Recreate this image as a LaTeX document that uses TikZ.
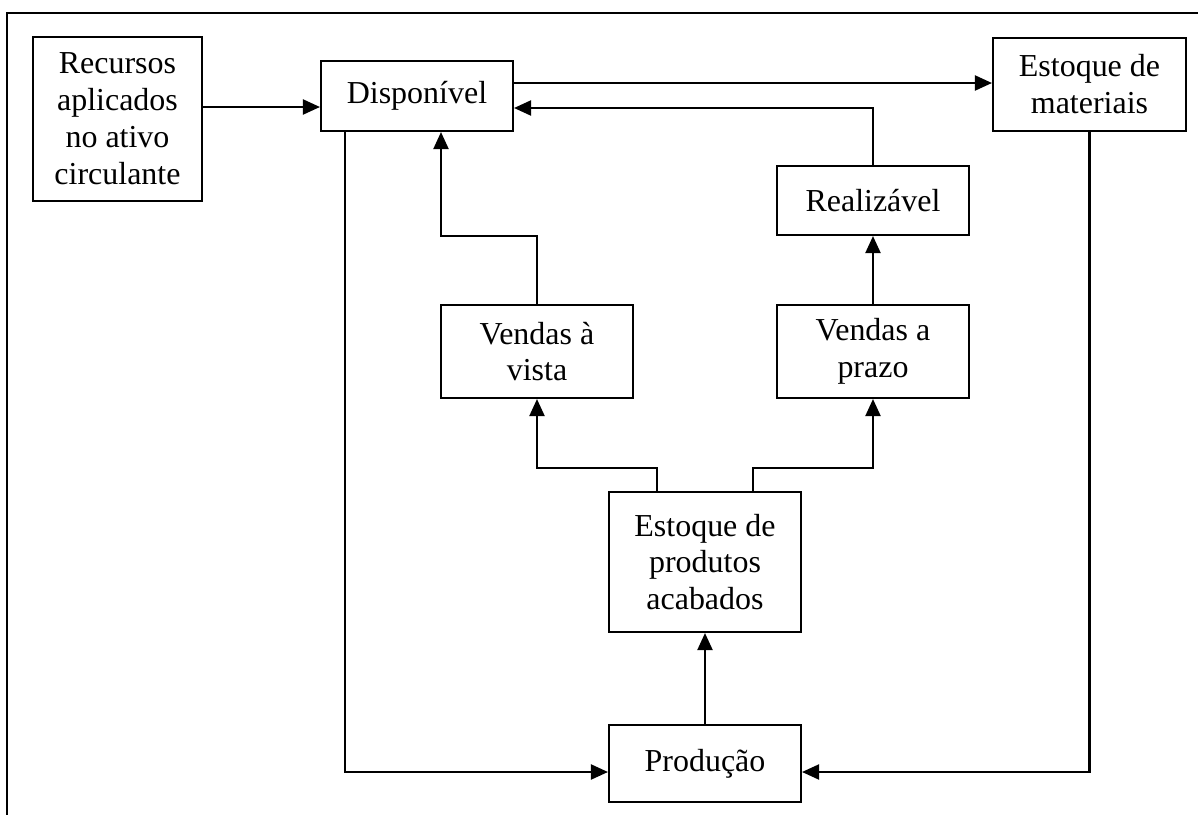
\documentclass[tikz,border=0pt]{standalone}
\usepackage{fontspec}
\setmainfont{Liberation Serif}
\usepackage{tikz}
\usetikzlibrary{arrows.meta, positioning, calc}
\tikzset{
    % Block (rectangle)
    block/.style={rectangle, draw=black, line width=1.2pt, fill=white,
        align=center, inner sep=0pt, font=\fontsize{18.2}{21}\selectfont},
    % Flow arrow
    flow/.style={-{Triangle[length=0.34cm, width=0.3cm]}, line width=1.2pt, black},
    % Outer frame
    frameline/.style={line width=1.4pt, black},
}

\begin{document}
\begin{tikzpicture}[x=0.02cm, y=-0.02cm]
    \useasboundingbox (0,0) rectangle (1198,815);
    \draw[frameline] (7,815) |- (1198,13);
    % blocks
    \node[block, minimum width=3.38cm, minimum height=3.28cm] (rec) at (117.5,119) {Recursos\\aplicados\\no ativo\\circulante};
    \node[block, minimum width=3.84cm, minimum height=1.4cm] (disp) at (417,96) {Dispon\'ivel};
    \node[block, minimum width=3.86cm, minimum height=1.86cm] (estmat) at (1089.5,84.5) {Estoque de\\materiais};
    \node[block, minimum width=3.84cm, minimum height=1.38cm] (real) at (873,200.5) {Realiz\'avel};
    \node[block, minimum width=3.84cm, minimum height=1.86cm] (vvista) at (537,351.5) {Vendas \`a\\vista};
    \node[block, minimum width=3.84cm, minimum height=1.86cm] (vprazo) at (873,351.5) {Vendas a\\prazo};
    \node[block, minimum width=3.84cm, minimum height=2.8cm] (estprod) at (705,562) {Estoque de\\produtos\\acabados};
    \node[block, minimum width=3.84cm, minimum height=1.54cm] (prod) at (705,763.5) {Produ\c{c}\~ao};
    % connectors
    \draw[flow] (rec.east |- 0,107) -- (disp.west |- 0,107);
    \draw[flow] (disp.east |- 0,83) -- (estmat.west |- 0,83);
    \draw[flow] (real.north) |- (disp.east |- 0,108);
    \draw[flow] (vvista.north) |- (441,236) -- (disp.south -| 441,0);
    \draw[flow] (vprazo.north) -- (real.south);
    \draw[flow] (estprod.north -| 657,0) |- (vvista.south |- 0,468) -- (vvista.south);
    \draw[flow] (estprod.north -| 753,0) |- (vprazo.south |- 0,468) -- (vprazo.south);
    \draw[flow] (prod.north) -- (estprod.south);
    \draw[flow] (disp.south -| 345,0) |- (prod.west |- 0,772);
    \draw[flow] (estmat.south) |- (prod.east |- 0,772);
\end{tikzpicture}
\end{document}
